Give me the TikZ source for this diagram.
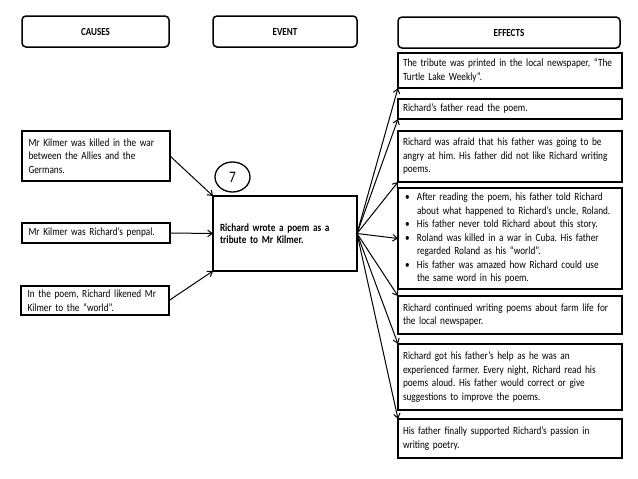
\documentclass[tikz,border=0pt]{standalone}
\usepackage{fontspec}
\setmainfont{Carlito}[FakeStretch=0.84]
\usetikzlibrary{arrows.meta,shapes.geometric}
\newcommand\bodyfont{\fontsize{11}{13.5}\selectfont\frenchspacing}
\newcommand\bul{\makebox[14pt][l]{\hspace{2pt}•}}
\newcommand\ind{\hspace*{14pt}}
\begin{document}
\begin{tikzpicture}[x=1pt,y=-1pt,
  hdr/.style={draw, line width=1.5pt, rounded corners=4pt, anchor=north west, outer sep=0pt, inner sep=0pt, font=\bfseries\fontsize{10.8}{12}\selectfont},
  cbox/.style={draw, line width=1.9pt, anchor=north west, outer sep=0pt, inner xsep=6.5pt, inner ysep=1pt, align=left, font=\bodyfont, minimum width=148pt, text width=135pt},
  ebox/.style={draw, line width=1.9pt, anchor=north west, outer sep=0pt, inner xsep=5pt, inner ysep=1pt, align=left, font=\bodyfont, minimum width=224pt, text width=214pt},
  evbox/.style={draw, line width=1.9pt, anchor=north west, outer sep=0pt, inner xsep=7pt, inner ysep=1pt, align=left, font=\bfseries\fontsize{11}{12.3}\selectfont\frenchspacing, minimum width=144pt, text width=130pt, minimum height=75pt},
  numcirc/.style={draw, ellipse, line width=1.3pt, minimum width=35pt, minimum height=30pt, inner sep=0pt, font=\fontsize{16}{18}\selectfont},
  arr/.style={-{Straight Barb[length=4.5pt,width=6.5pt]}, line width=1pt}
]
\path[use as bounding box] (0,0) rectangle (638,479);

% headers
\node[hdr, minimum width=147pt, minimum height=31pt] (hc) at (22,16) {CAUSES};
\node[hdr, minimum width=144pt, minimum height=31pt] (hv) at (213,16) {EVENT};
\node[hdr, minimum width=222pt, minimum height=31pt] (hf) at (398,17) {EFFECTS};

% causes
\node[cbox, minimum height=50pt] (c1) at (22,131) {Mr Kilmer was killed in the war\\between the Allies and the\\Germans.};
\node[cbox, minimum height=20pt] (c2) at (22,223) {Mr Kilmer was Richard’s penpal.};
\node[cbox, minimum height=29pt, inner xsep=5.5pt] (c3) at (21,286) {In the poem, Richard likened Mr\\Kilmer to the “world”.};

% event
\node[evbox] (ev) at (213,196) {Richard wrote a poem as a\\tribute to Mr Kilmer.};
\node[numcirc] (n7) at (232.5,177) {7};

% effects
\node[ebox, minimum height=35pt] (e1) at (398,53) {The tribute was printed in the local newspaper, “The\\Turtle Lake Weekly”.};
\node[ebox, minimum height=20pt] (e2) at (398,99) {Richard’s father read the poem.};
\node[ebox, minimum height=51pt] (e3) at (398,131) {Richard was afraid that his father was going to be\\angry at him. His father did not like Richard writing\\poems.};
\node[ebox, minimum height=101pt] (e4) at (398,188) {\bul After reading the poem, his father told Richard\\\ind about what happened to Richard’s uncle, Roland.\\\bul His father never told Richard about this story.\\\bul Roland was killed in a war in Cuba. His father\\\ind regarded Roland as his “world”.\\\bul His father was amazed how Richard could use\\\ind the same word in his poem.};
\node[ebox, minimum height=38pt] (e5) at (398,296) {Richard continued writing poems about farm life for\\the local newspaper.};
\node[ebox, minimum height=66pt] (e6) at (398,344) {Richard got his father’s help as he was an\\experienced farmer. Every night, Richard read his\\poems aloud. His father would correct or give\\suggestions to improve the poems.};
\node[ebox, minimum height=39pt] (e7) at (398,419) {His father finally supported Richard’s passion in\\writing poetry.};

% connectors
\draw[arr] (c1.east) -- (ev.north west);
\draw[arr] (c2.east) -- (ev.west);
\draw[arr] (c3.east) -- (ev.south west);
\draw[arr] (ev.east) -- (e1.south west);
\draw[arr] (ev.east) -- (e2.south west);
\draw[arr] (ev.east) -- (e3.south west);
\draw[arr] (ev.east) -- (e4.west);
\draw[arr] (ev.east) -- (e5.north west);
\draw[arr] (ev.east) -- (e6.north west);
\draw[arr] (ev.east) -- (e7.north west);
\end{tikzpicture}
\end{document}
